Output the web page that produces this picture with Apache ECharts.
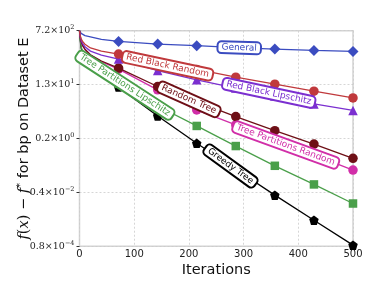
<!DOCTYPE html>
<html><head><meta charset="utf-8">
<script src="https://cdn.jsdelivr.net/npm/echarts@6/dist/echarts.min.js"></script>
<style>html,body{margin:0;padding:0;background:#fff}#c{width:374px;height:299px}</style>
</head><body><div id="c"></div>
<script>
// ---- data ----
const iterations = [0, 1, 3, 6, 10, 20, 40, 71.4, 142.9, 214.3, 285.7, 357.1, 428.6, 500];
const markerIterations = [71.4, 142.9, 214.3, 285.7, 357.1, 428.6, 500];
const general            = [720, 646, 589, 537, 501, 457, 380, 324, 267, 236, 206, 184, 166, 154];
const redBlackRandom     = [720, 525, 398, 316, 263, 200, 158, 127, 72.4, 40.7, 22.9, 13.6, 8.07, 4.90];
const redBlackLipschitz  = [720, 501, 355, 269, 219, 158, 117, 87.5, 37.4, 18.7, 10.2, 5.62, 3.13, 1.93];
const randomTree         = [720, 479, 316, 234, 182, 120, 75.9, 44.8, 11.4, 3.72, 1.22, 0.430, 0.159, 0.055];
const treePartRandom     = [720, 479, 316, 234, 178, 117, 72.4, 41.7, 8.89, 2.00, 0.656, 0.214, 0.0708, 0.0230];
const treePartLipschitz  = [720, 417, 224, 148, 100, 52.5, 28.2, 13.9, 2.69, 0.610, 0.137, 0.0316, 0.00792, 0.00192];
const greedyTree         = [720, 398, 200, 132, 89.1, 50.1, 26.3, 10.9, 1.28, 0.168, 0.0245, 0.00357, 0.000555, 0.0000871];
const seriesNames = ['General', 'Red Black Random', 'Red Black Lipschitz', 'Random Tree',
                     'Tree Partitions Random', 'Tree Partitions Lipschitz', 'Greedy Tree'];
const xTicks = [0, 100, 200, 300, 400, 500];
const yMin = 0.00008, yMax = 720;
const yTickMantissas = ['0.8', '0.4', '0.2', '1.3', '7.2'];
const yTickExponents = ['−4', '−2', '0', '1', '2'];

// ---- styles / label placement ----
const styles = {
  'General':                   {color: '#3b4cc0', symbol: 'diamond', size: 11, z: 2, lab: [292, 203], rot: -2},
  'Red Black Random':          {color: '#c0393c', symbol: 'circle', size: 9.5, z: 8, lab: [161, 53.1], rot: -12},
  'Red Black Lipschitz':       {color: '#7b2fd0', symbol: 'triangle', size: 9.5, z: 7, lab: [346, 7.11], rot: -12},
  'Random Tree':               {color: '#6e0f16', symbol: 'circle', size: 9.5, z: 6, lab: [200, 4.4], rot: -24},
  'Tree Partitions Random':    {color: '#d12ea8', symbol: 'circle', size: 9.5, z: 5, lab: [377, 0.148], rot: -20},
  'Tree Partitions Lipschitz': {color: '#4a9f4a', symbol: 'rect', size: 8.5, z: 4, lab: [83, 12.6], rot: -33},
  'Greedy Tree':               {color: '#000000', symbol: 'path://M0,-1 L0.951,-0.309 L0.588,0.809 L-0.588,0.809 L-0.951,-0.309 Z', size: 9.5, z: 3, lab: [276, 0.031], rot: -36}
};
const values = [general, redBlackRandom, redBlackLipschitz, randomTree, treePartRandom, treePartLipschitz, greedyTree];

const lg = v => Math.log10(v);
const series = [];
seriesNames.forEach((name, k) => {
  const st = styles[name];
  const vals = values[k];
  series.push({
    name, type: 'line', data: iterations.map((x, i) => [x, lg(vals[i])]),
    showSymbol: false, smooth: false,
    lineStyle: {color: st.color, width: 1.3}, z: st.z, silent: true, animation: false
  });
  series.push({
    name: name + ' markers', type: 'scatter',
    data: iterations.map((x, i) => [x, lg(vals[i])]).filter(p => markerIterations.includes(p[0])),
    symbol: st.symbol, symbolSize: st.symbol === 'diamond' ? [st.size, st.size] : st.size,
    itemStyle: {color: st.color, opacity: 1}, z: st.z, silent: true, animation: false
  });
  series.push({
    name: name + ' label', type: 'scatter', data: [[st.lab[0], lg(st.lab[1])]],
    symbolSize: 0, z: 20, silent: true, animation: false,
    itemStyle: {opacity: 1},
    label: {
      show: true, position: 'inside', formatter: name, rotate: st.rot,
      fontFamily: 'DejaVu Sans', fontSize: 9, color: st.color, opacity: 1,
      backgroundColor: '#fff', borderColor: st.color, borderWidth: 2, borderRadius: 3,
      padding: [1, 3, 0, 3]
    }
  });
});

const chart = echarts.init(document.getElementById('c'), null, {renderer: 'canvas'});
const lo = lg(yMin), hi = lg(yMax);
chart.setOption({
  animation: false,
  backgroundColor: '#fff',
  grid: {left: 79.5, right: 21, top: 30.7, bottom: 52.7, show: true, borderColor: '#d4d4d4', borderWidth: 1.5,
         containLabel: false, outerBoundsMode: 'none'},
  xAxis: {
    type: 'value', min: xTicks[0], max: xTicks[xTicks.length - 1], interval: 100,
    name: 'Iterations', nameLocation: 'middle', nameGap: 16, nameMoveOverlap: false,
    nameTextStyle: {fontFamily: 'DejaVu Sans', fontSize: 14.5, color: '#111', verticalAlign: 'top'},
    axisLine: {show: false}, axisTick: {show: false},
    axisLabel: {fontFamily: 'DejaVu Sans', fontSize: 10, color: '#222', margin: 3},
    splitLine: {show: true, lineStyle: {color: '#cccccc', type: [2, 2], width: 0.8}}
  },
  yAxis: {
    type: 'value', min: lo, max: hi, interval: (hi - lo) / 4,
    name: '{i|f}{m|(}{i|x}{m|) − }{i|f}{s|*}{t| for bp on Dataset E}',
    nameLocation: 'middle', nameGap: 46, nameRotate: 90, nameMoveOverlap: false,
    nameTextStyle: {
      fontFamily: 'DejaVu Sans', fontSize: 14.5, color: '#111',
      rich: {
        i: {fontFamily: 'DejaVu Serif', fontStyle: 'italic', fontSize: 14.5, color: '#111'},
        m: {fontFamily: 'DejaVu Serif', fontSize: 14.5, color: '#111'},
        s: {fontFamily: 'DejaVu Serif', fontSize: 10, color: '#111', padding: [0, 0, 8, 0]},
        t: {fontFamily: 'DejaVu Sans', fontSize: 14.5, color: '#111'}
      }
    },
    axisLine: {show: false},
    axisTick: {show: true, length: 3, lineStyle: {color: '#333', width: 1}},
    axisLabel: {
      margin: 5,
      formatter: (v, idx) => '{m|' + yTickMantissas[idx] + '×10}{e|' + yTickExponents[idx] + '}',
      rich: {
        m: {fontFamily: 'DejaVu Serif', fontSize: 9.5, color: '#222'},
        e: {fontFamily: 'DejaVu Serif', fontSize: 6.5, color: '#222', padding: [0, 0, 6, 0]}
      }
    },
    splitLine: {show: true, lineStyle: {color: '#cccccc', type: [2, 2], width: 0.8}}
  },
  series
});
</script></body></html>
